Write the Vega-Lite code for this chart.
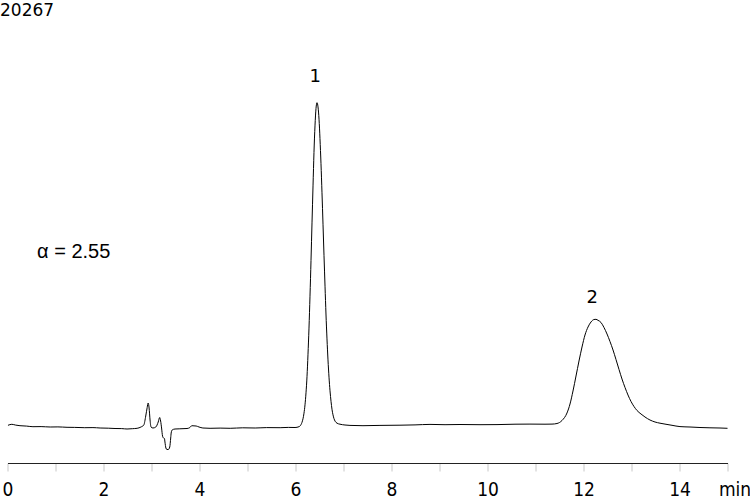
{
  "$schema": "https://vega.github.io/schema/vega-lite/v6.json",
  "width": 720,
  "height": 463,
  "autosize": {"type": "none"},
  "padding": {"left": 7.5, "top": 0, "right": 22.5, "bottom": 33},
  "config": {"view": {"stroke": null}, "font": "DejaVu Sans"},
  "datasets": {
    "trace": [
      {"t": 0.01, "s": 2.7}, {"t": 0.09, "s": 3.7}, {"t": 0.17, "s": 2.9}, {"t": 0.26, "s": 2.3},
      {"t": 0.4, "s": 1.9}, {"t": 0.53, "s": 1.3}, {"t": 0.7, "s": 1.4}, {"t": 0.89, "s": 1.0},
      {"t": 1.05, "s": 1.1}, {"t": 1.24, "s": 0.7}, {"t": 1.4, "s": 0.6}, {"t": 1.61, "s": 0.3},
      {"t": 1.78, "s": 0.4}, {"t": 1.93, "s": 0}, {"t": 2.1, "s": -0.2}, {"t": 2.24, "s": -0.5},
      {"t": 2.38, "s": -0.6}, {"t": 2.49, "s": -1}, {"t": 2.6, "s": -0.7}, {"t": 2.7, "s": -0.3},
      {"t": 2.78, "s": 1}, {"t": 2.84, "s": 3}, {"t": 2.88, "s": 12}, {"t": 2.91, "s": 20.5},
      {"t": 2.93, "s": 25}, {"t": 2.95, "s": 20}, {"t": 2.97, "s": 8}, {"t": 2.99, "s": 1},
      {"t": 3.03, "s": 0}, {"t": 3.09, "s": 1}, {"t": 3.14, "s": 6}, {"t": 3.17, "s": 10.5},
      {"t": 3.19, "s": 7}, {"t": 3.21, "s": 0}, {"t": 3.23, "s": -8}, {"t": 3.25, "s": -10},
      {"t": 3.27, "s": -10.5}, {"t": 3.28, "s": -14}, {"t": 3.3, "s": -20}, {"t": 3.32, "s": -21.5},
      {"t": 3.35, "s": -21.5}, {"t": 3.38, "s": -19}, {"t": 3.4, "s": -10}, {"t": 3.41, "s": -5},
      {"t": 3.43, "s": -2}, {"t": 3.49, "s": -1}, {"t": 3.59, "s": -0.8}, {"t": 3.74, "s": -0.5},
      {"t": 3.8, "s": 0.5}, {"t": 3.84, "s": 2.3}, {"t": 3.93, "s": 2}, {"t": 3.99, "s": 1},
      {"t": 4.07, "s": 0}, {"t": 4.22, "s": -0.3}, {"t": 4.43, "s": -0.1}, {"t": 4.64, "s": -0.3},
      {"t": 4.9, "s": 0.2}, {"t": 5.16, "s": 0}, {"t": 5.4, "s": 0.4}, {"t": 5.68, "s": 0.3},
      {"t": 5.85, "s": 0.6}, {"t": 5.99, "s": 0.5}, {"t": 6.073, "s": 1.3}, {"t": 6.115, "s": 3.4},
      {"t": 6.135, "s": 5.6}, {"t": 6.156, "s": 9.2}, {"t": 6.177, "s": 14.8}, {"t": 6.198, "s": 23.2},
      {"t": 6.219, "s": 35.2}, {"t": 6.24, "s": 51.7}, {"t": 6.26, "s": 73.2}, {"t": 6.281, "s": 99.9},
      {"t": 6.302, "s": 131.8}, {"t": 6.323, "s": 167.5}, {"t": 6.344, "s": 205.1}, {"t": 6.365, "s": 242.1},
      {"t": 6.385, "s": 275.5}, {"t": 6.406, "s": 302.1}, {"t": 6.427, "s": 319.4}, {"t": 6.448, "s": 325.3},
      {"t": 6.469, "s": 321.1}, {"t": 6.49, "s": 308.8}, {"t": 6.51, "s": 289.5}, {"t": 6.531, "s": 264.3},
      {"t": 6.552, "s": 235.2}, {"t": 6.573, "s": 203.8}, {"t": 6.594, "s": 172.3}, {"t": 6.615, "s": 141.8},
      {"t": 6.635, "s": 114}, {"t": 6.656, "s": 89.1}, {"t": 6.677, "s": 68.1}, {"t": 6.698, "s": 50.8},
      {"t": 6.719, "s": 37.2}, {"t": 6.74, "s": 26.6}, {"t": 6.76, "s": 18.8}, {"t": 6.781, "s": 13.2},
      {"t": 6.802, "s": 9.4}, {"t": 6.823, "s": 7.0}, {"t": 6.844, "s": 5.6}, {"t": 6.865, "s": 4.8},
      {"t": 6.927, "s": 3.8}, {"t": 7.031, "s": 3.0}, {"t": 7.135, "s": 2.6}, {"t": 7.406, "s": 2.3},
      {"t": 7.76, "s": 2.6}, {"t": 8.177, "s": 2.8}, {"t": 8.49, "s": 3.1}, {"t": 8.802, "s": 3.6},
      {"t": 9.115, "s": 3.3}, {"t": 9.427, "s": 3.5}, {"t": 9.844, "s": 3.3}, {"t": 10.198, "s": 3.4},
      {"t": 10.573, "s": 3.8}, {"t": 10.885, "s": 3.9}, {"t": 11.198, "s": 3.8}, {"t": 11.344, "s": 3.9},
      {"t": 11.448, "s": 4.5}, {"t": 11.552, "s": 7.5}, {"t": 11.656, "s": 15}, {"t": 11.719, "s": 24},
      {"t": 11.781, "s": 37}, {"t": 11.844, "s": 52}, {"t": 11.906, "s": 67}, {"t": 11.969, "s": 81},
      {"t": 12.031, "s": 93}, {"t": 12.094, "s": 101}, {"t": 12.156, "s": 106}, {"t": 12.219, "s": 108.5},
      {"t": 12.26, "s": 108.7}, {"t": 12.302, "s": 107.7}, {"t": 12.365, "s": 105.5}, {"t": 12.427, "s": 100.5},
      {"t": 12.49, "s": 94}, {"t": 12.552, "s": 86.5}, {"t": 12.615, "s": 78}, {"t": 12.677, "s": 68.5},
      {"t": 12.74, "s": 58.5}, {"t": 12.802, "s": 49}, {"t": 12.865, "s": 40.5}, {"t": 12.927, "s": 33},
      {"t": 12.99, "s": 26.5}, {"t": 13.052, "s": 21.5}, {"t": 13.115, "s": 17.5}, {"t": 13.198, "s": 14},
      {"t": 13.281, "s": 11}, {"t": 13.385, "s": 8}, {"t": 13.49, "s": 6}, {"t": 13.594, "s": 4.8},
      {"t": 13.698, "s": 3.9}, {"t": 13.844, "s": 2.7}, {"t": 14.01, "s": 1.4}, {"t": 14.219, "s": 1.0},
      {"t": 14.427, "s": 0.5}, {"t": 14.635, "s": 0.2}, {"t": 14.844, "s": 0}, {"t": 15.0, "s": -0.3}
    ],
    "peaks": [
      {"t": 6.41, "s": 346.3, "label": "1"},
      {"t": 12.18, "s": 125.3, "label": "2"}
    ],
    "header": [
      {"t": -0.156, "s": 412, "label": "20267"}
    ],
    "note": [
      {"t": 0.615, "s": 170, "label": "α = 2.55"}
    ]
  },
  "layer": [
    {
      "data": {"name": "trace"},
      "mark": {"type": "line", "color": "black", "strokeWidth": 1, "interpolate": "monotone"},
      "encoding": {
        "x": {
          "field": "t",
          "type": "quantitative",
          "scale": {"domain": [0, 15], "nice": false},
          "axis": {
            "title": null,
            "values": [0, 1, 2, 3, 4, 5, 6, 7, 8, 9, 10, 11, 12, 13, 14, 15],
            "labelExpr": "datum.value % 2 == 0 ? datum.label : (datum.value == 15 ? 'min' : '')",
            "grid": false,
            "domainColor": "#222222",
            "domainWidth": 1,
            "tickColor": "#c8c8c8",
            "tickSize": 8,
            "tickWidth": 1,
            "labelFont": "DejaVu Sans Condensed, DejaVu Sans",
            "labelFontSize": 19,
            "labelColor": "black",
            "labelPadding": 9,
            "labelFlush": false,
            "labelOverlap": false,
            "labelBound": false,
            "labelOffset": {"condition": {"test": "datum.value == 15", "value": 7}, "value": 0}
          }
        },
        "y": {
          "field": "s",
          "type": "quantitative",
          "scale": {"domain": [-35, 428], "nice": false, "zero": false},
          "axis": null
        }
      }
    },
    {
      "data": {"name": "peaks"},
      "mark": {"type": "text", "font": "DejaVu Sans", "fontSize": 18, "align": "center", "baseline": "alphabetic", "color": "black"},
      "encoding": {
        "x": {"field": "t", "type": "quantitative", "scale": {"domain": [0, 15], "nice": false}},
        "y": {"field": "s", "type": "quantitative", "scale": {"domain": [-35, 428], "nice": false, "zero": false}},
        "text": {"field": "label"}
      }
    },
    {
      "data": {"name": "header"},
      "mark": {"type": "text", "font": "DejaVu Sans", "fontSize": 17, "align": "left", "baseline": "alphabetic", "color": "black"},
      "encoding": {
        "x": {"field": "t", "type": "quantitative", "scale": {"domain": [0, 15], "nice": false}},
        "y": {"field": "s", "type": "quantitative", "scale": {"domain": [-35, 428], "nice": false, "zero": false}},
        "text": {"field": "label"}
      }
    },
    {
      "data": {"name": "note"},
      "mark": {"type": "text", "font": "Liberation Sans", "fontSize": 20, "align": "left", "baseline": "alphabetic", "color": "black"},
      "encoding": {
        "x": {"field": "t", "type": "quantitative", "scale": {"domain": [0, 15], "nice": false}},
        "y": {"field": "s", "type": "quantitative", "scale": {"domain": [-35, 428], "nice": false, "zero": false}},
        "text": {"field": "label"}
      }
    }
  ]
}
